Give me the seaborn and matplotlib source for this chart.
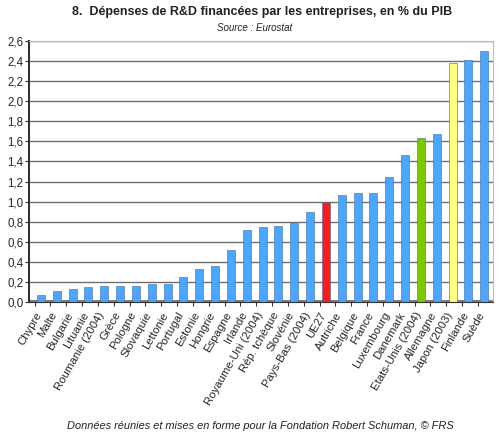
import pandas as pd
import seaborn as sns
import matplotlib.pyplot as plt
from matplotlib.ticker import FuncFormatter

# data
pays = ['Chypre', 'Malte', 'Bulgarie', 'Lituanie', 'Roumanie (2004)', 'Grèce',
        'Pologne', 'Slovaquie', 'Lettonie', 'Portugal', 'Estonie', 'Hongrie',
        'Espagne', 'Irlande', 'Royaume-Uni (2004)', 'Rép. tchèque', 'Slovénie',
        'Pays-Bas (2004)', 'UE27', 'Autriche', 'Belgique', 'France', 'Luxembourg',
        'Danemark', 'Etats-Unis (2004)', 'Allemagne', 'Japon (2003)', 'Finlande', 'Suède']
valeurs = [0.07, 0.11, 0.13, 0.15, 0.16, 0.16, 0.16, 0.18, 0.18, 0.25, 0.33, 0.36,
           0.52, 0.72, 0.75, 0.76, 0.79, 0.90, 1.00, 1.07, 1.09, 1.09, 1.25,
           1.46, 1.63, 1.67, 2.38, 2.41, 2.50]
speciaux = {'UE27': '#ff1a1a', 'Etats-Unis (2004)': '#7ec800', 'Japon (2003)': '#ffff80'}

df = pd.DataFrame({'pays': pays, 'valeur': valeurs})
palette = {p: speciaux.get(p, '#4ba6ff') for p in pays}

sns.set_style('white')
plt.rcParams['font.family'] = ['Liberation Sans', 'DejaVu Sans']

fig = plt.figure(figsize=(5, 4.37), dpi=100)
ax = fig.add_axes([0.058, 0.309, 0.928, 0.597])

# grid and floor
for y in [i * 0.2 for i in range(1, 14)]:
  ax.axhline(y, color='#707070', lw=1, zorder=0)
ax.axhline(0, color='#777777', lw=3.5, zorder=1)

sns.barplot(data=df, x='pays', y='valeur', hue='pays', palette=palette,
            width=0.5, legend=False, ax=ax, zorder=2,
            edgecolor='#3a6aa0', linewidth=0.4, saturation=1)

ax.set_ylim(0, 2.6)
ax.set_xlim(-0.75, len(pays) - 0.45)
ax.set_yticks([i * 0.2 for i in range(14)])
ax.yaxis.set_major_formatter(FuncFormatter(lambda v, p: f'{v:.1f}'.replace('.', ',')))
ax.set_xlabel('')
ax.set_ylabel('')
# ticks sit between the bars, labels end at the tick
ax.set_xticks([i - 0.4 for i in range(len(pays))])
ax.set_xticklabels(pays, rotation=60, ha='right', rotation_mode='anchor', fontsize=8.2)
ax.tick_params(axis='y', labelsize=8.3, length=3, left=True, pad=1, color='#333333')
ax.tick_params(axis='x', length=3, bottom=True, pad=3, color='#333333')

for s in ['top', 'right']:
  ax.spines[s].set_color('#bbbbbb')
ax.spines['left'].set_color('#333333')
ax.spines['bottom'].set_color('#333333')
ax.spines['left'].set_linewidth(1.5)

fig.text(0.525, 0.972, '8.  Dépenses de R&D financées par les entreprises, en % du PIB',
         ha='center', va='center', fontsize=9, fontweight='bold', color='#222222')
fig.text(0.51, 0.937, 'Source : Eurostat', ha='center', va='center',
         fontsize=7, style='italic', color='#222222')
fig.text(0.52, 0.025, 'Données réunies et mises en forme pour la Fondation Robert Schuman, © FRS',
         ha='center', va='center', fontsize=7.9, style='italic', color='#222222')

fig.savefig('out.png', dpi=100)
